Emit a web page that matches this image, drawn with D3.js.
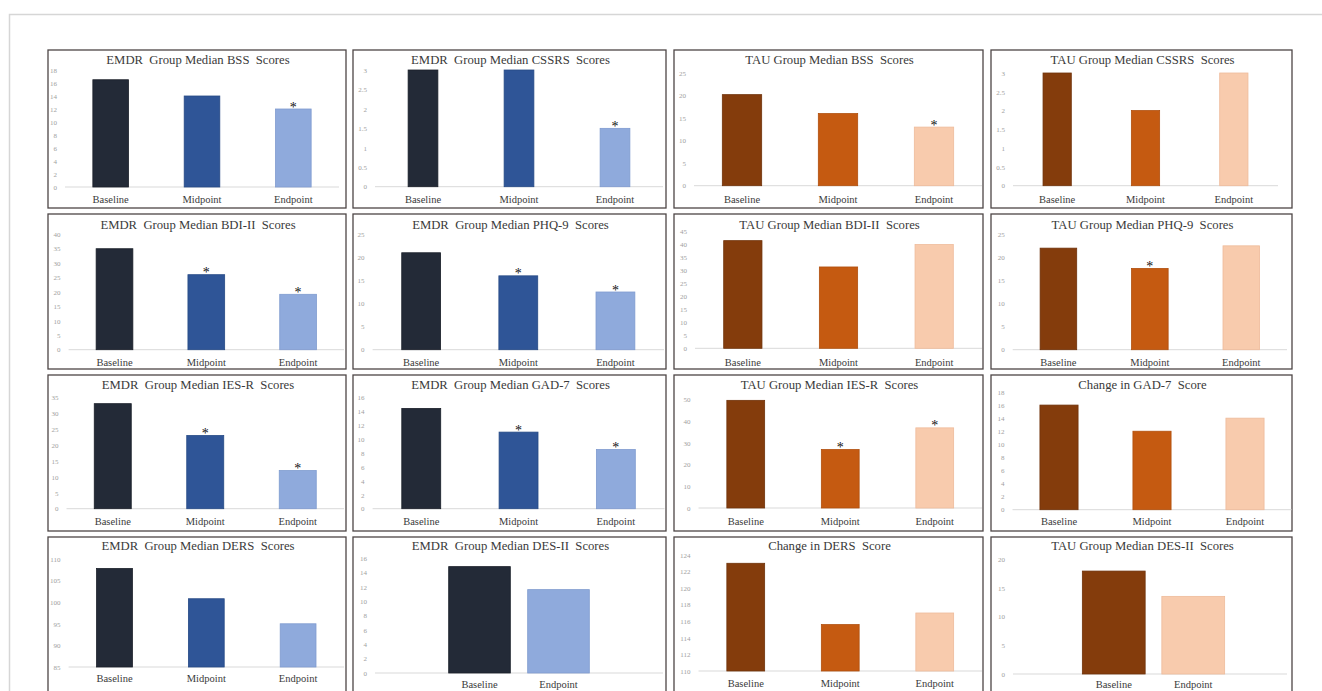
<!DOCTYPE html>
<html>
<head>
<meta charset="utf-8">
<script src="https://cdn.jsdelivr.net/npm/d3@7"></script>
<style>
  body { margin: 0; background: #fff; }
  svg { display: block; }
</style>
</head>
<body>
<svg width="1322" height="691"></svg>
<script>
// ---- data ----
var categories3 = ["Baseline", "Midpoint", "Endpoint"];
var categories2 = ["Baseline", "Endpoint"];

var titles = [
  "EMDR  Group Median BSS  Scores", "EMDR  Group Median CSSRS  Scores",
  "TAU Group Median BSS  Scores", "TAU Group Median CSSRS  Scores",
  "EMDR  Group Median BDI-II  Scores", "EMDR  Group Median PHQ-9  Scores",
  "TAU Group Median BDI-II  Scores", "TAU Group Median PHQ-9  Scores",
  "EMDR  Group Median IES-R  Scores", "EMDR  Group Median GAD-7  Scores",
  "TAU Group Median IES-R  Scores", "Change in GAD-7  Score",
  "EMDR  Group Median DERS  Scores", "EMDR  Group Median DES-II  Scores",
  "Change in DERS  Score", "TAU Group Median DES-II  Scores"
];
var groups = ["EMDR", "EMDR", "TAU", "TAU", "EMDR", "EMDR", "TAU", "TAU",
              "EMDR", "EMDR", "TAU", "TAU", "EMDR", "EMDR", "TAU", "TAU"];

var emdrBss = [16.5, 14, 12];
var emdrCssrs = [3, 3, 1.5];
var tauBss = [20.2, 16, 13];
var tauCssrs = [3, 2, 3];
var emdrBdi = [35, 26, 19.2];
var emdrPhq = [21, 16, 12.5];
var tauBdi = [41.3, 31.2, 39.8];
var tauPhq = [22, 17.6, 22.5];
var emdrIes = [33, 23, 12];
var emdrGad = [14.4, 11, 8.5];
var tauIes = [49.7, 27, 37];
var tauGadChange = [16, 12, 14];
var emdrDers = [107.8, 100.8, 95];
var emdrDes = [14.8, 11.6];
var tauDersChange = [123, 115.6, 117];
var tauDes = [17.9, 13.5];

var seriesValues = [emdrBss, emdrCssrs, tauBss, tauCssrs, emdrBdi, emdrPhq, tauBdi, tauPhq,
                    emdrIes, emdrGad, tauIes, tauGadChange, emdrDers, emdrDes, tauDersChange, tauDes];

// which bars carry a significance star
var starred = [[2], [2], [2], [], [1, 2], [1, 2], [], [1],
               [1, 2], [1, 2], [1, 2], [], [], [], [], []];

// y axis tick labels [min, max, step]
var yTicks = [[0, 18, 2], [0, 3, 0.5], [0, 25, 5], [0, 3, 0.5],
              [0, 40, 5], [0, 25, 5], [0, 45, 5], [0, 25, 5],
              [0, 35, 5], [0, 16, 2], [0, 50, 10], [0, 18, 2],
              [85, 110, 5], [0, 16, 2], [110, 124, 2], [0, 20, 5]];

// ---- layout ----
var colX = [[48, 346], [353, 666], [674, 983], [991, 1292]];
var rowY = [[50, 208], [214, 369], [375, 531], [537, 697]];
var titleY = [61, 226, 386, 547];
var labelY = [200, 363, 522, 680];

// per panel: plot x range, optional band range, bar fraction, y of top tick, y of zero line
var layout = [
  {x: [65, 339], bar: 0.39, y: [70, 187]},
  {x: [375, 663], bar: 0.31, y: [70, 186.7]},
  {x: [694, 982], bar: 0.41, y: [73, 185.7]},
  {x: [1013, 1278], bar: 0.32, y: [73, 185.7]},
  {x: [68.6, 344], bar: 0.40, y: [234.3, 349.7]},
  {x: [372.6, 664], bar: 0.40, y: [234.3, 349.7]},
  {x: [695, 982], bar: 0.40, y: [231, 348.3]},
  {x: [1012.7, 1287], bar: 0.40, y: [234.3, 349.7]},
  {x: [66.5, 344], bar: 0.40, y: [397.3, 508.7]},
  {x: [372.6, 664.5], bar: 0.40, y: [397.3, 508.7]},
  {x: [698.5, 982], bar: 0.40, y: [399.7, 508]},
  {x: [1012.5, 1291.5], bar: 0.41, y: [392, 509.7]},
  {x: [68.6, 344], bar: 0.39, y: [559, 667], ly: 679},
  {x: [375, 663], band: [440, 598], bar: 0.78, y: [558, 673], ly: 685},
  {x: [698.5, 982], bar: 0.40, y: [555, 671], ly: 684},
  {x: [1013, 1287], band: [1074, 1233], bar: 0.79, y: [559, 674], ly: 685}
];

var palette = {
  EMDR: {Baseline: "#232a37", Midpoint: "#2f5597", Endpoint: "#8faadc"},
  TAU: {Baseline: "#843c0c", Midpoint: "#c55a11", Endpoint: "#f8cbad"}
};
var edge = {
  EMDR: {Baseline: "#1a1f29", Midpoint: "#264a85", Endpoint: "#7f9bcf"},
  TAU: {Baseline: "#6f320a", Midpoint: "#b04f0e", Endpoint: "#eebb9b"}
};

var svg = d3.select("svg");
var serif = "'Liberation Serif', 'Times New Roman', serif";

// light outer frame
svg.append("rect")
  .attr("x", 9.5).attr("y", 14.5)
  .attr("width", 1330).attr("height", 700)
  .attr("fill", "none")
  .attr("stroke", "#d6d6d6")
  .attr("stroke-width", 1.5);

seriesValues.forEach(function(values, i) {
  var col = i % 4, row = Math.floor(i / 4);
  var lay = layout[i];
  var cats = values.length === 3 ? categories3 : categories2;
  var grp = groups[i];
  var tk = yTicks[i];
  var g = svg.append("g");

  // panel border
  g.append("rect")
    .attr("x", colX[col][0]).attr("y", rowY[row][0])
    .attr("width", colX[col][1] - colX[col][0])
    .attr("height", rowY[row][1] - rowY[row][0])
    .attr("fill", "#fff")
    .attr("stroke", "#4d4646")
    .attr("stroke-width", 1.3);

  g.append("text")
    .attr("x", (colX[col][0] + colX[col][1]) / 2 + 1)
    .attr("y", titleY[row])
    .attr("text-anchor", "middle")
    .attr("dominant-baseline", "middle")
    .attr("font-family", serif)
    .attr("font-size", 12.7)
    .attr("fill", "#3a3a3a")
    .style("white-space", "pre")
    .text(titles[i]);

  var yScale = d3.scaleLinear()
    .domain([tk[0], tk[1]])
    .range([lay.y[1], lay.y[0]]);

  var xScale = d3.scaleBand()
    .domain(cats)
    .range(lay.band || lay.x)
    .paddingInner(1 - lay.bar)
    .paddingOuter((1 - lay.bar) / 2);

  var tickVals = d3.range(tk[0], tk[1] + tk[2] / 2, tk[2]);
  var yAxis = d3.axisLeft(yScale)
    .tickValues(tickVals)
    .tickSize(0)
    .tickPadding(8)
    .tickFormat(d3.format("~g"));

  var ya = g.append("g")
    .attr("transform", "translate(" + lay.x[0] + ",0)")
    .call(yAxis);
  ya.select(".domain").remove();
  ya.selectAll("text")
    .attr("font-family", serif)
    .attr("font-size", 7)
    .attr("fill", "#a0a0a0");

  // zero line
  g.append("line")
    .attr("x1", lay.x[0]).attr("x2", lay.x[1])
    .attr("y1", yScale(tk[0])).attr("y2", yScale(tk[0]))
    .attr("stroke", "#d9d9d9")
    .attr("stroke-width", 1);

  g.selectAll(".bar")
    .data(values)
    .enter().append("rect")
    .attr("class", "bar")
    .attr("x", function(d, j) { return xScale(cats[j]); })
    .attr("y", function(d) { return yScale(d); })
    .attr("width", xScale.bandwidth())
    .attr("height", function(d) { return yScale(tk[0]) - yScale(d); })
    .attr("fill", function(d, j) { return palette[grp][cats[j]]; })
    .attr("stroke", function(d, j) { return edge[grp][cats[j]]; })
    .attr("stroke-width", 0.8);

  g.selectAll(".star")
    .data(starred[i])
    .enter().append("text")
    .attr("class", "star")
    .attr("x", function(j) { return xScale(cats[j]) + xScale.bandwidth() / 2; })
    .attr("y", function(j) { return yScale(values[j]) + 2.5; })
    .attr("text-anchor", "middle")
    .attr("font-family", serif)
    .attr("font-size", 14)
    .attr("fill", "#111")
    .text("*");

  var xAxis = d3.axisBottom(xScale).tickSize(0).tickPadding(0);
  var xa = g.append("g")
    .attr("transform", "translate(0," + (lay.ly || labelY[row]) + ")")
    .call(xAxis);
  xa.select(".domain").remove();
  xa.selectAll("text")
    .attr("dy", "0.32em")
    .attr("font-family", serif)
    .attr("font-size", 10.5)
    .attr("fill", "#3a3a3a");
});
</script>
</body>
</html>
